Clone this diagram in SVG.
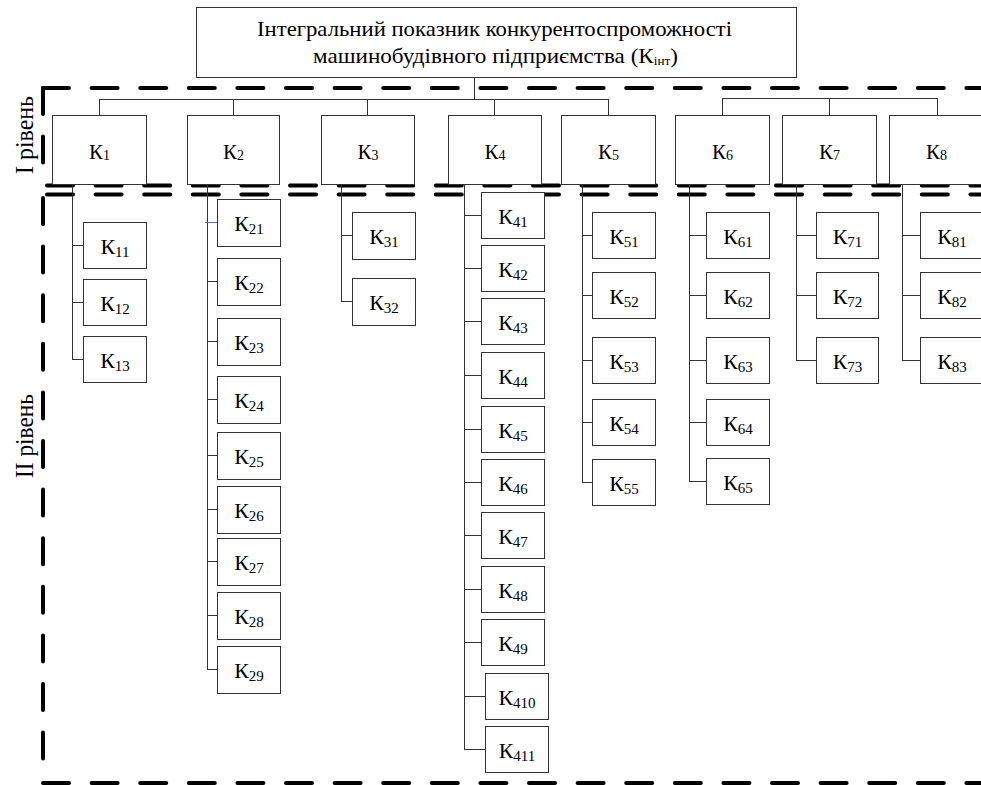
<svg xmlns="http://www.w3.org/2000/svg" width="981" height="785" viewBox="0 0 981 785">
<style>
.frame{fill:none;stroke:#000;stroke-width:4;stroke-linecap:round;stroke-dasharray:26 22.6}
.box{fill:#fff;stroke:#333;stroke-width:1}
.ln{fill:none;stroke:#333;stroke-width:1}
.t{fill:#000}
.l1{font-size:21px;text-anchor:middle}
.l2{font-size:22px;text-anchor:middle}
</style>
<rect width="981" height="785" fill="#fff"/>
<g id="frames">
<path class="frame" d="M43,88 H985"/>
<path class="frame" d="M43,88 V184"/>
<path class="frame" d="M47,185.5 H985"/>
<path class="frame" d="M47,194.5 H985"/>
<path class="frame" d="M43,198 V767"/>
<path class="frame" d="M43,783 H985"/>
</g>
<g font-family="Liberation Serif, DejaVu Serif, serif">
<g id="labels">
<text class="t" font-size="26" text-anchor="middle" textLength="78" lengthAdjust="spacingAndGlyphs" transform="translate(33,135) rotate(-90)">І рівень</text>
<text class="t" font-size="26" text-anchor="middle" textLength="84" lengthAdjust="spacingAndGlyphs" transform="translate(33,436) rotate(-90)">ІІ рівень</text>
</g>
<g id="connectors">
<path class="ln" d="M474.5,77 V99.5 M99,99.5 H608.5 M722.5,98.5 H937.5"/>
<path class="ln" d="M99.5,99 V115 M233.5,99 V115 M367.5,99 V115 M494.5,99 V115 M608.5,99 V115 M722.5,98 V115 M829.5,98 V115 M937.5,98 V115"/>
<path class="ln" d="M72.5,184 V359.5 M72,245.5 H83 M72,302.5 H83 M72,359.5 H83"/>
<path class="ln" d="M207.5,184 V669.5 M207,281.5 H217 M207,341.5 H217 M207,399.5 H217 M207,455.5 H217 M207,509.5 H217 M208,561.5 H217 M207,615.5 H217 M207,669.5 H217"/>
<path fill="none" stroke="#4472c4" stroke-width="1" d="M205,222.5 H217"/>
<path class="ln" d="M341.5,184 V301.5 M341,235.5 H352 M341,301.5 H352"/>
<path class="ln" d="M464.5,184 V749.5 M464,215.5 H481 M464,268.5 H481 M464,321.5 H481 M464,375.5 H481 M464,429.5 H481 M464,482.5 H481 M464,535.5 H481 M464,589.5 H481 M464,642.5 H481 M464,696.5 H485 M464,749.5 H485"/>
<path class="ln" d="M582.5,184 V482.5 M582,235.5 H592 M582,295.5 H592 M582,360.5 H592 M582,422.5 H592 M582,482.5 H592"/>
<path class="ln" d="M689.5,184 V481.5 M689,235.5 H706 M689,295.5 H706 M689,360.5 H706 M689,422.5 H706 M689,481.5 H706"/>
<path class="ln" d="M796.5,184 V360.5 M796,235.5 H816 M796,295.5 H816 M796,360.5 H816"/>
<path class="ln" d="M902.5,184 V360.5 M902,235.5 H920 M902,295.5 H920 M902,360.5 H920"/>
</g>
<g id="root">
<rect class="box" x="196.5" y="7.5" width="600" height="70"/>
<text class="t" x="257" y="36" font-size="21" textLength="475" lengthAdjust="spacingAndGlyphs">Інтегральний показник конкурентоспроможності</text>
<text class="t" x="313" y="63" font-size="21" textLength="365" lengthAdjust="spacingAndGlyphs">машинобудівного підприємства (К<tspan font-size="12" dy="2">інт</tspan><tspan dy="-2">)</tspan></text>
</g>
<g id="K1"><rect class="box" x="52.5" y="115.5" width="94" height="69"/><text class="t l1" x="99.5" y="159">К<tspan font-size="14" dy="1">1</tspan></text></g>
<g id="K2"><rect class="box" x="187.5" y="115.5" width="92" height="69"/><text class="t l1" x="233.5" y="159">К<tspan font-size="14" dy="1">2</tspan></text></g>
<g id="K3"><rect class="box" x="321.5" y="115.5" width="93" height="69"/><text class="t l1" x="368" y="159">К<tspan font-size="14" dy="1">3</tspan></text></g>
<g id="K4"><rect class="box" x="448.5" y="115.5" width="93" height="69"/><text class="t l1" x="495" y="159">К<tspan font-size="14" dy="1">4</tspan></text></g>
<g id="K5"><rect class="box" x="561.5" y="115.5" width="94" height="69"/><text class="t l1" x="608.5" y="159">К<tspan font-size="14" dy="1">5</tspan></text></g>
<g id="K6"><rect class="box" x="675.5" y="115.5" width="94" height="69"/><text class="t l1" x="722.5" y="159">К<tspan font-size="14" dy="1">6</tspan></text></g>
<g id="K7"><rect class="box" x="782.5" y="115.5" width="94" height="69"/><text class="t l1" x="829.5" y="159">К<tspan font-size="14" dy="1">7</tspan></text></g>
<g id="K8"><rect class="box" x="889.5" y="115.5" width="94" height="69"/><text class="t l1" x="936.5" y="159">К<tspan font-size="14" dy="1">8</tspan></text></g>

<g id="K11"><rect class="box" x="83.5" y="222.5" width="63" height="46"/><text class="t l2" x="115" y="253.5">К<tspan font-size="15" dy="3">11</tspan></text></g>
<g id="K12"><rect class="box" x="83.5" y="279.5" width="63" height="46"/><text class="t l2" x="115" y="310.5">К<tspan font-size="15" dy="3">12</tspan></text></g>
<g id="K13"><rect class="box" x="83.5" y="336.5" width="63" height="46"/><text class="t l2" x="115" y="367.5">К<tspan font-size="15" dy="3">13</tspan></text></g>

<g id="K21"><rect class="box" x="217.5" y="199.5" width="63" height="47"/><text class="t l2" x="249" y="231">К<tspan font-size="15" dy="3">21</tspan></text></g>
<g id="K22"><rect class="box" x="217.5" y="258.5" width="63" height="47"/><text class="t l2" x="249" y="290">К<tspan font-size="15" dy="3">22</tspan></text></g>
<g id="K23"><rect class="box" x="217.5" y="318.5" width="63" height="47"/><text class="t l2" x="249" y="350">К<tspan font-size="15" dy="3">23</tspan></text></g>
<g id="K24"><rect class="box" x="217.5" y="376.5" width="63" height="47"/><text class="t l2" x="249" y="408">К<tspan font-size="15" dy="3">24</tspan></text></g>
<g id="K25"><rect class="box" x="217.5" y="432.5" width="63" height="47"/><text class="t l2" x="249" y="464">К<tspan font-size="15" dy="3">25</tspan></text></g>
<g id="K26"><rect class="box" x="217.5" y="486.5" width="63" height="47"/><text class="t l2" x="249" y="518">К<tspan font-size="15" dy="3">26</tspan></text></g>
<g id="K27"><rect class="box" x="217.5" y="538.5" width="63" height="47"/><text class="t l2" x="249" y="570">К<tspan font-size="15" dy="3">27</tspan></text></g>
<g id="K28"><rect class="box" x="217.5" y="592.5" width="63" height="47"/><text class="t l2" x="249" y="624">К<tspan font-size="15" dy="3">28</tspan></text></g>
<g id="K29"><rect class="box" x="217.5" y="646.5" width="63" height="47"/><text class="t l2" x="249" y="678">К<tspan font-size="15" dy="3">29</tspan></text></g>

<g id="K31"><rect class="box" x="352.5" y="212.5" width="63" height="47"/><text class="t l2" x="384" y="244">К<tspan font-size="15" dy="3">31</tspan></text></g>
<g id="K32"><rect class="box" x="352.5" y="278.5" width="63" height="47"/><text class="t l2" x="384" y="310">К<tspan font-size="15" dy="3">32</tspan></text></g>

<g id="K41"><rect class="box" x="481.5" y="192.5" width="63" height="46"/><text class="t l2" x="513" y="223.5">К<tspan font-size="15" dy="3">41</tspan></text></g>
<g id="K42"><rect class="box" x="481.5" y="245.5" width="63" height="46"/><text class="t l2" x="513" y="276.5">К<tspan font-size="15" dy="3">42</tspan></text></g>
<g id="K43"><rect class="box" x="481.5" y="298.5" width="63" height="46"/><text class="t l2" x="513" y="329.5">К<tspan font-size="15" dy="3">43</tspan></text></g>
<g id="K44"><rect class="box" x="481.5" y="352.5" width="63" height="46"/><text class="t l2" x="513" y="383.5">К<tspan font-size="15" dy="3">44</tspan></text></g>
<g id="K45"><rect class="box" x="481.5" y="406.5" width="63" height="46"/><text class="t l2" x="513" y="437.5">К<tspan font-size="15" dy="3">45</tspan></text></g>
<g id="K46"><rect class="box" x="481.5" y="459.5" width="63" height="46"/><text class="t l2" x="513" y="490.5">К<tspan font-size="15" dy="3">46</tspan></text></g>
<g id="K47"><rect class="box" x="481.5" y="512.5" width="63" height="46"/><text class="t l2" x="513" y="543.5">К<tspan font-size="15" dy="3">47</tspan></text></g>
<g id="K48"><rect class="box" x="481.5" y="566.5" width="63" height="46"/><text class="t l2" x="513" y="597.5">К<tspan font-size="15" dy="3">48</tspan></text></g>
<g id="K49"><rect class="box" x="481.5" y="619.5" width="63" height="46"/><text class="t l2" x="513" y="650.5">К<tspan font-size="15" dy="3">49</tspan></text></g>
<g id="K410"><rect class="box" x="485.5" y="673.5" width="63" height="46"/><text class="t l2" x="517" y="704.5">К<tspan font-size="15" dy="3">410</tspan></text></g>
<g id="K411"><rect class="box" x="485.5" y="726.5" width="63" height="46"/><text class="t l2" x="517" y="757.5">К<tspan font-size="15" dy="3">411</tspan></text></g>

<g id="K51"><rect class="box" x="592.5" y="212.5" width="63" height="46"/><text class="t l2" x="624" y="243.5">К<tspan font-size="15" dy="3">51</tspan></text></g>
<g id="K52"><rect class="box" x="592.5" y="272.5" width="63" height="46"/><text class="t l2" x="624" y="303.5">К<tspan font-size="15" dy="3">52</tspan></text></g>
<g id="K53"><rect class="box" x="592.5" y="337.5" width="63" height="46"/><text class="t l2" x="624" y="368.5">К<tspan font-size="15" dy="3">53</tspan></text></g>
<g id="K54"><rect class="box" x="592.5" y="399.5" width="63" height="46"/><text class="t l2" x="624" y="430.5">К<tspan font-size="15" dy="3">54</tspan></text></g>
<g id="K55"><rect class="box" x="592.5" y="459.5" width="63" height="46"/><text class="t l2" x="624" y="490.5">К<tspan font-size="15" dy="3">55</tspan></text></g>

<g id="K61"><rect class="box" x="706.5" y="212.5" width="63" height="46"/><text class="t l2" x="738" y="243.5">К<tspan font-size="15" dy="3">61</tspan></text></g>
<g id="K62"><rect class="box" x="706.5" y="272.5" width="63" height="46"/><text class="t l2" x="738" y="303.5">К<tspan font-size="15" dy="3">62</tspan></text></g>
<g id="K63"><rect class="box" x="706.5" y="337.5" width="63" height="46"/><text class="t l2" x="738" y="368.5">К<tspan font-size="15" dy="3">63</tspan></text></g>
<g id="K64"><rect class="box" x="706.5" y="399.5" width="63" height="46"/><text class="t l2" x="738" y="430.5">К<tspan font-size="15" dy="3">64</tspan></text></g>
<g id="K65"><rect class="box" x="706.5" y="458.5" width="63" height="46"/><text class="t l2" x="738" y="489.5">К<tspan font-size="15" dy="3">65</tspan></text></g>

<g id="K71"><rect class="box" x="816.5" y="212.5" width="62" height="46"/><text class="t l2" x="847.5" y="243.5">К<tspan font-size="15" dy="3">71</tspan></text></g>
<g id="K72"><rect class="box" x="816.5" y="272.5" width="62" height="46"/><text class="t l2" x="847.5" y="303.5">К<tspan font-size="15" dy="3">72</tspan></text></g>
<g id="K73"><rect class="box" x="816.5" y="337.5" width="62" height="46"/><text class="t l2" x="847.5" y="368.5">К<tspan font-size="15" dy="3">73</tspan></text></g>

<g id="K81"><rect class="box" x="920.5" y="212.5" width="63" height="46"/><text class="t l2" x="952" y="243.5">К<tspan font-size="15" dy="3">81</tspan></text></g>
<g id="K82"><rect class="box" x="920.5" y="272.5" width="63" height="46"/><text class="t l2" x="952" y="303.5">К<tspan font-size="15" dy="3">82</tspan></text></g>
<g id="K83"><rect class="box" x="920.5" y="337.5" width="63" height="46"/><text class="t l2" x="952" y="368.5">К<tspan font-size="15" dy="3">83</tspan></text></g>
</g>
</svg>
